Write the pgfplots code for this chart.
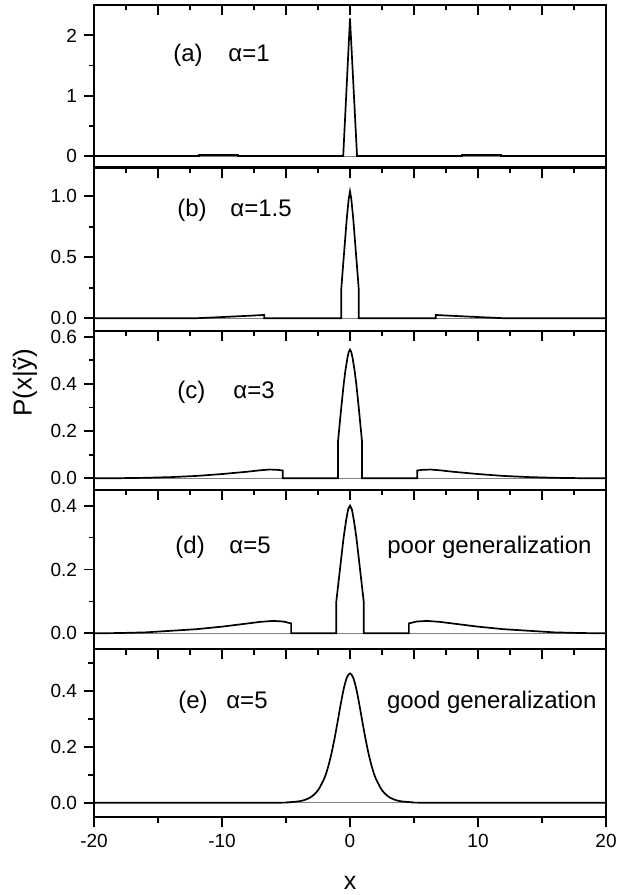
\documentclass[border=0pt]{standalone}
\usepackage{fontspec}
\setmainfont{Liberation Sans}
\usepackage{pgfplots}
\pgfplotsset{compat=1.18}

\pgfplotsset{
  panel/.style={
    scale only axis, width=256pt,
    xmin=-20, xmax=20,
    anchor=south west,
    axis line style={line width=1.1pt},
    every tick/.style={black, line width=0.9pt},
    major tick length=5pt, minor tick length=2.6pt,
    xtick={-20,-15,...,20}, minor x tick num=1,
    xtick pos=right, xtick align=inside,
    ytick pos=left, ytick align=outside,
    tick label style={font=\fontsize{9.5}{11}\selectfont},
    /pgf/number format/assume math mode=true,
    yticklabel style={/pgf/number format/fixed,
      /pgf/number format/fixed zerofill, /pgf/number format/precision=1},
  },
  curve/.style={black, line width=0.85pt},
  base/.style={gray, line width=0.4pt},
}
\tikzset{lab/.style={anchor=west, inner sep=0pt, text height=9pt, text depth=2.6pt,
  font=\fontsize{12}{14}\selectfont}}

\begin{document}
\begin{tikzpicture}
\path[use as bounding box] (0,0) rectangle (309pt,-447.5pt);

% (a) alpha = 1
\begin{axis}[panel, at={(47pt,-83.75pt)}, height=81.25pt,
  ymin=-0.191, ymax=2.504, ytick={0,1,2}, minor ytick={0.5,1.5},
  xticklabels={},
  yticklabel style={/pgf/number format/precision=0}]
\addplot[base] coordinates {(-20,0) (20,0)};
\addplot[curve] coordinates {
  (-20,0) (-11.8,0) (-11.8,0.015) (-8.75,0.015) (-8.75,0)
  (-0.53,0) (0,2.28) (0.55,0)
  (8.75,0) (8.75,0.015) (11.8,0.015) (11.8,0) (20,0)};
\node[lab] at (axis cs:-13.83,1.67) {(a)};
\node[lab] at (axis cs:-9.53,1.67) {α=1};
\end{axis}

% (b) alpha = 1.5
\begin{axis}[panel, at={(47pt,-165.35pt)}, height=81.6pt,
  ymin=-0.102, ymax=1.236, ytick={0,0.5,1}, minor ytick={0.25,0.75},
  xticklabels={}]
\addplot[base] coordinates {(-20,0) (20,0)};
\addplot[curve] coordinates {
  (-20,0) (-12.1,0) (-10,0.01) (-8,0.02) (-6.7,0.027) (-6.7,0)
  (-0.69,0) (-0.69,0.23) (-0.55,0.42) (-0.4,0.62) (-0.25,0.82) (-0.1,0.98) (0,1.04)
  (0.1,0.98) (0.25,0.82) (0.4,0.62) (0.55,0.42) (0.69,0.23) (0.69,0)
  (6.7,0) (6.7,0.027) (8,0.02) (10,0.01) (12.1,0) (20,0)};
\node[lab] at (axis cs:-13.52,0.89) {(b)};
\node[lab] at (axis cs:-9.375,0.89) {α=1.5};
\end{axis}

% (c) alpha = 3
\begin{axis}[panel, at={(47pt,-245pt)}, height=79.65pt,
  ymin=-0.0496, ymax=0.625, ytick={0,0.2,0.4,0.6}, minor ytick={0.1,0.3,0.5},
  xticklabels={},
  ylabel={P(x|ỹ)},
  ylabel style={at={(rel axis cs:-0.135,0.672)}, anchor=center,
    font=\fontsize{13}{15}\selectfont}]
\addplot[base] coordinates {(-20,0) (20,0)};
\addplot[curve] coordinates {
  (-20,0) (-18,0.0005) (-16,0.002) (-14,0.005) (-12,0.010) (-10,0.018)
  (-8,0.028) (-7,0.034) (-6.3,0.037) (-5.7,0.036) (-5.25,0.033) (-5.25,0)
  (-0.93,0) (-0.93,0.16) (-0.7,0.29) (-0.5,0.395) (-0.35,0.46) (-0.2,0.51)
  (-0.1,0.535) (0,0.545)
  (0.1,0.535) (0.2,0.51) (0.35,0.46) (0.5,0.395) (0.7,0.29) (0.93,0.16) (0.93,0)
  (5.25,0) (5.25,0.033) (5.7,0.036) (6.3,0.037) (7,0.034) (8,0.028)
  (10,0.018) (12,0.010) (14,0.005) (16,0.002) (18,0.0005) (20,0)};
\node[lab] at (axis cs:-13.52,0.367) {(c)};
\node[lab] at (axis cs:-9.14,0.367) {α=3};
\end{axis}

% (d) alpha = 5, poor generalization
\begin{axis}[panel, at={(47pt,-324.65pt)}, height=79.65pt,
  ymin=-0.050, ymax=0.449, ytick={0,0.2,0.4}, minor ytick={0.1,0.3},
  xticklabels={}]
\addplot[base] coordinates {(-20,0) (20,0)};
\addplot[curve] coordinates {
  (-20,0) (-18,0.001) (-16,0.003) (-14,0.008) (-12,0.013) (-10,0.021)
  (-8,0.031) (-7,0.036) (-6,0.039) (-5.2,0.037) (-4.6,0.031) (-4.6,0)
  (-1.08,0) (-1.08,0.096) (-0.9,0.16) (-0.7,0.23) (-0.5,0.30) (-0.3,0.355)
  (-0.15,0.388) (0,0.40)
  (0.15,0.388) (0.3,0.355) (0.5,0.30) (0.7,0.23) (0.9,0.16) (1.08,0.096) (1.08,0)
  (4.6,0) (4.6,0.031) (5.2,0.037) (6,0.039) (7,0.036) (8,0.031)
  (10,0.021) (12,0.013) (14,0.008) (16,0.003) (18,0.001) (20,0)};
\node[lab] at (axis cs:-13.67,0.271) {(d)};
\node[lab] at (axis cs:-9.45,0.271) {α=5};
\node[lab] at (axis cs:2.89,0.27) {poor generalization};
\end{axis}

% (e) alpha = 5, good generalization
\begin{axis}[panel, at={(47pt,-408.65pt)}, height=84pt,
  ymin=-0.052, ymax=0.548, ytick={0,0.2,0.4}, minor ytick={0.1,0.3,0.5},
  xtick={-20,-10,...,20}, minor x tick num=1,
  xtick pos=left, xtick align=outside, minor tick length=3pt,
  xticklabel style={/pgf/number format/precision=0},
  xlabel={x},
  xlabel style={at={(rel axis cs:0.5,-0.391)}, anchor=center,
    font=\fontsize{12.5}{14}\selectfont}]
\addplot[base] coordinates {(-20,0) (20,0)};
\addplot[curve, smooth] coordinates {
  (-20,0) (-6,0.0003) (-5,0.0012) (-4,0.0051) (-3.5,0.0106) (-3,0.0219)
  (-2.5,0.0445) (-2,0.0880) (-1.75,0.1217) (-1.5,0.1654) (-1.25,0.2193)
  (-1,0.2809) (-0.75,0.3457) (-0.5,0.4048) (-0.25,0.4467) (0,0.462)
  (0.25,0.4467) (0.5,0.4048) (0.75,0.3457) (1,0.2809) (1.25,0.2193)
  (1.5,0.1654) (1.75,0.1217) (2,0.0880) (2.5,0.0445) (3,0.0219)
  (3.5,0.0106) (4,0.0051) (5,0.0012) (6,0.0003) (20,0)};
\node[lab] at (axis cs:-13.44,0.36) {(e)};
\node[lab] at (axis cs:-9.69,0.36) {α=5};
\node[lab] at (axis cs:2.86,0.36) {good generalization};
\end{axis}
% inward ticks on the top edge of (e)
\begin{axis}[panel, at={(47pt,-408.65pt)}, height=84pt,
  ymin=-0.052, ymax=0.548, ytick=\empty, xticklabels={}]
\end{axis}
\end{tikzpicture}
\end{document}
